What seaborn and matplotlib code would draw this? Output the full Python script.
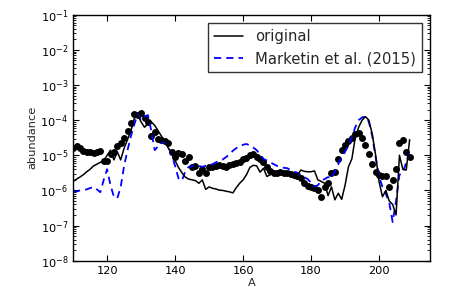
import matplotlib
matplotlib.use("Agg")
import matplotlib.pyplot as plt
import seaborn as sns
import pandas as pd

# mass number
A = list(range(110, 210))

# black dots (no legend entry)
measured = [
    1.6e-5, 1.8e-5, 1.6e-5, 1.3e-5, 1.25e-5, 1.25e-5, 1.2e-5, 1.25e-5, 1.3e-5, 7.1e-6,
    7.1e-6, 1.1e-5, 1.25e-5, 1.8e-5, 2.2e-5, 3.2e-5, 5.0e-5, 8.3e-5, 1.5e-4, 1.4e-4,
    1.65e-4, 1.12e-4, 8.9e-5, 3.5e-5, 4.7e-5, 3.0e-5, 2.8e-5, 2.5e-5, 2.2e-5, 1.25e-5,
    8.9e-6, 1.17e-5, 1.12e-5, 7.1e-6, 9.1e-6, 4.7e-6, 5.0e-6, 3.2e-6, 4.2e-6, 3.2e-6,
    4.6e-6, 4.7e-6, 5.0e-6, 5.2e-6, 5.0e-6, 4.7e-6, 5.2e-6, 5.6e-6, 5.9e-6, 6.6e-6,
    7.6e-6, 8.3e-6, 1.02e-5, 1.07e-5, 9.1e-6, 7.9e-6, 6.3e-6, 4.7e-6, 3.5e-6, 3.2e-6,
    3.2e-6, 3.4e-6, 3.2e-6, 3.1e-6, 3.0e-6, 2.8e-6, 2.6e-6, 2.2e-6, 1.6e-6, 1.3e-6,
    1.23e-6, 1.15e-6, 1.05e-6, 6.6e-7, 1.26e-6, 1.6e-6, 3.2e-6, 3.4e-6, 7.9e-6, 1.4e-5,
    2.0e-5, 2.5e-5, 3.2e-5, 4.0e-5, 4.4e-5, 3.2e-5, 2.0e-5, 1.12e-5, 5.6e-6, 3.3e-6,
    2.8e-6, 2.6e-6, 2.5e-6, 1.23e-6, 2.0e-6, 4.0e-6, 2.3e-5, 2.8e-5, 1.25e-5, 9.1e-6,
]

original = [
    1.8e-6, 2.1e-6, 2.4e-6, 2.8e-6, 3.4e-6, 4.0e-6, 5.0e-6, 5.6e-6, 6.3e-6, 7.1e-6,
    1.0e-5, 1.4e-5, 7.4e-6, 1.25e-5, 7.4e-6, 1.6e-5, 2.8e-5, 5.0e-5, 1.12e-4, 1.4e-4,
    8.9e-5, 6.3e-5, 7.9e-5, 8.9e-5, 7.1e-5, 5.0e-5, 3.5e-5, 2.5e-5, 1.6e-5, 1.12e-5,
    7.1e-6, 4.5e-6, 3.2e-6, 2.4e-6, 2.1e-6, 2.0e-6, 1.9e-6, 1.6e-6, 2.0e-6, 1.07e-6,
    1.26e-6, 1.15e-6, 1.1e-6, 1.02e-6, 1.0e-6, 9.5e-7, 9.1e-7, 8.5e-7, 1.2e-6, 1.6e-6,
    2.0e-6, 2.8e-6, 4.5e-6, 5.2e-6, 5.0e-6, 3.3e-6, 4.3e-6, 2.5e-6, 2.8e-6, 3.2e-6,
    2.8e-6, 3.4e-6, 3.2e-6, 3.2e-6, 3.4e-6, 3.0e-6, 2.75e-6, 3.8e-6, 3.5e-6, 3.4e-6,
    3.4e-6, 3.6e-6, 2.0e-6, 1.8e-6, 1.6e-6, 7.1e-7, 1.26e-6, 5.4e-7, 8.3e-7, 5.6e-7,
    1.4e-6, 4.7e-6, 7.9e-6, 3.2e-5, 6.3e-5, 1.0e-4, 1.26e-4, 1.0e-4, 4.0e-5, 1.0e-5,
    1.8e-6, 6.6e-7, 1.0e-6, 5.0e-7, 4.0e-7, 2.0e-7, 1.0e-5, 4.0e-6, 3.8e-6, 2.8e-5,
]

marketin = [
    8.9e-7, 9.3e-7, 1.0e-6, 1.02e-6, 1.07e-6, 1.17e-6, 1.26e-6, 1.07e-6, 8.9e-7, 2.0e-6,
    4.0e-6, 1.4e-6, 6.6e-7, 6.0e-7, 1.26e-6, 5.0e-6, 1.4e-5, 3.5e-5, 7.6e-5, 1.5e-4,
    1.0e-4, 1.26e-4, 1.4e-4, 5.0e-5, 1.4e-5, 1.8e-5, 2.2e-5, 2.4e-5, 1.8e-5, 1.0e-5,
    5.0e-6, 2.2e-6, 1.9e-6, 3.5e-6, 4.7e-6, 5.0e-6, 5.2e-6, 5.0e-6, 4.7e-6, 5.0e-6,
    5.2e-6, 5.6e-6, 6.3e-6, 7.1e-6, 7.6e-6, 8.9e-6, 1.07e-5, 1.35e-5, 1.6e-5, 1.8e-5,
    2.0e-5, 2.1e-5, 1.9e-5, 1.66e-5, 1.4e-5, 1.05e-5, 7.9e-6, 7.1e-6, 6.3e-6, 5.6e-6,
    5.0e-6, 4.7e-6, 4.4e-6, 4.3e-6, 3.8e-6, 3.4e-6, 3.2e-6, 2.75e-6, 2.4e-6, 2.1e-6,
    1.66e-6, 1.3e-6, 1.4e-6, 1.9e-6, 2.1e-6, 2.4e-6, 2.2e-6, 3.5e-6, 5.6e-6, 8.9e-6,
    1.26e-5, 1.9e-5, 3.2e-5, 6.3e-5, 1.0e-4, 1.2e-4, 1.26e-4, 8.9e-5, 3.5e-5, 8.9e-6,
    2.5e-6, 1.26e-6, 7.9e-7, 4.5e-7, 1.26e-7, 5.0e-7, 2.8e-6, 3.2e-6, 6.3e-6, 1.4e-5,
]

df = pd.DataFrame({"A": A, "measured": measured, "original": original, "marketin": marketin})

sns.set_style("white")
plt.rcParams.update({
    "font.family": ["DejaVu Sans"],
    "xtick.direction": "in", "ytick.direction": "in",
    "xtick.top": True, "ytick.right": True,
    "xtick.bottom": True, "ytick.left": True,
    "xtick.major.size": 4, "ytick.major.size": 4,
    "ytick.minor.size": 2, "ytick.minor.visible": True,
    "xtick.color": "black", "ytick.color": "black",
    "axes.edgecolor": "black", "axes.linewidth": 1.0,
})

fig = plt.figure(figsize=(4.57, 3.08), dpi=100)
ax = fig.add_axes([0.16, 0.1536, 0.781, 0.7984])

sns.scatterplot(data=df, x="A", y="measured", color="black", s=25,
                linewidth=0, legend=False, ax=ax, zorder=1)
sns.lineplot(data=df, x="A", y="original", color="black", lw=1.1,
             label="original", ax=ax, zorder=3)
sns.lineplot(data=df, x="A", y="marketin", color="#0000ff", lw=1.3,
             linestyle=(0, (4.0, 2.8)), label="Marketin et al. (2015)", ax=ax, zorder=2)

ax.set_yscale("log")
ax.set_ylim(1e-8, 1e-1)
ax.set_xlim(110, 215)
ax.set_xticks([120, 140, 160, 180, 200])
ax.tick_params(axis="both", which="both", labelsize=8.2, direction="in",
               top=True, right=True)
ax.tick_params(axis="x", which="minor", top=False, bottom=False)
ax.set_xlabel("A", fontsize=8.2, labelpad=2)
ax.set_ylabel("abundance", fontsize=8.2, labelpad=2)

leg = ax.legend(loc="upper right", fontsize=10.6, frameon=True, fancybox=False,
                borderaxespad=0.55, handlelength=2.0)
leg.get_frame().set_edgecolor("black")
leg.get_frame().set_linewidth(1.0)

fig.savefig("out.png", dpi=100)
